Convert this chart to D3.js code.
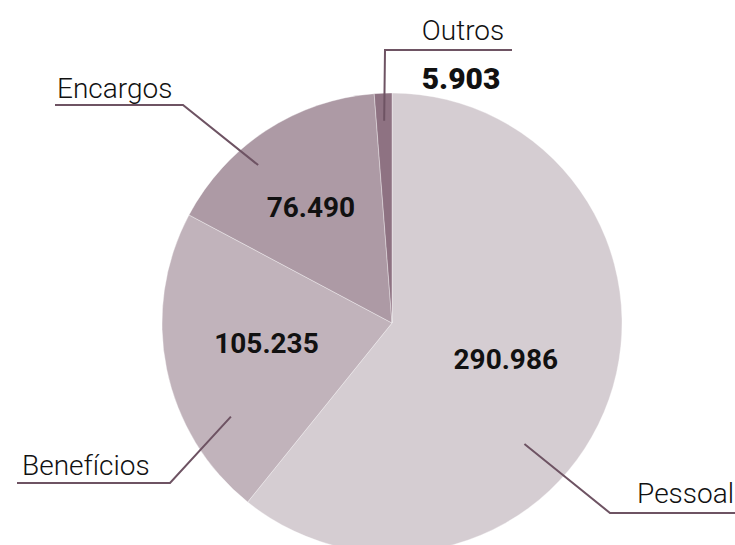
<!DOCTYPE html>
<html>
<head>
<meta charset="utf-8">
<script src="https://cdn.jsdelivr.net/npm/d3@7"></script>
<style>
  html, body { margin: 0; padding: 0; background: #ffffff; }
  svg { display: block; }
  text { font-family: Roboto, "Noto Sans", sans-serif; fill: #111111; }
</style>
</head>
<body>
<svg id="chart" width="735" height="545"></svg>
<script>
// Expense categories and values (thousands)
const categories = ["Pessoal", "Benefícios", "Encargos", "Outros"];
const values = [290.986, 105.235, 76.490, 5.903];
const valueLabels = ["290.986", "105.235", "76.490", "5.903"];
const colors = ["#d5cdd2", "#c1b3bb", "#ad9aa5", "#8e7282"];

// Layout of in-slice value labels: fraction along the slice angle, radius ratio
const valuePlacement = [
  { frac: 0.493, r: 0.52 },
  { frac: 0.53, r: 0.553 },
  { frac: 0.468, r: 0.614 },
  null
];

// Leader-line callouts: anchor inside the slice, elbow, end of the underline, text
const callouts = [
  { frac: 0.605, r: 0.78, elbow: [610, 513], endX: 735, text: { x: 734, y: 503, anchor: "end" } },
  { frac: 0.265, r: 0.81, elbow: [170, 483], endX: 17,  text: { x: 22,  y: 475, anchor: "start" } },
  { frac: 0.377, r: 0.90, elbow: [183, 105], endX: 55,  text: { x: 57,  y: 98,  anchor: "start" } },
  { frac: 0.5,   r: 0.88, elbow: [385, 50],  endX: 512, text: { x: 463, y: 40,  anchor: "middle" },
    value: { x: 461, y: 89 } }
];

const cx = 392, cy = 323, R = 230;
const svg = d3.select("#chart");
const g = svg.append("g").attr("transform", `translate(${cx},${cy})`);

const pie = d3.pie().sort(null).value(d => d.value).startAngle(0).endAngle(2 * Math.PI);
const data = categories.map((c, i) => ({ name: c, value: values[i], label: valueLabels[i], color: colors[i] }));
const arcs = pie(data);

const arc = d3.arc().innerRadius(0).outerRadius(R);

g.selectAll("path.slice")
  .data(arcs)
  .enter().append("path")
  .attr("class", "slice")
  .attr("d", arc)
  .attr("fill", d => d.data.color)
  .attr("stroke", "#ffffff")
  .attr("stroke-width", 0.6)
  .attr("stroke-opacity", 0.6);

// polar helper: point at a fraction of a slice's angular span
function pointIn(a, frac, ratio) {
  const ang = a.startAngle + frac * (a.endAngle - a.startAngle);
  return [Math.sin(ang) * R * ratio, -Math.cos(ang) * R * ratio];
}

// Value labels inside the larger slices
arcs.forEach((a, i) => {
  const p = valuePlacement[i];
  if (!p) return;
  const [x, y] = pointIn(a, p.frac, p.r);
  g.append("text")
    .attr("x", x).attr("y", y)
    .attr("text-anchor", "middle")
    .attr("dominant-baseline", "central")
    .attr("font-size", 28)
    .attr("font-weight", 700)
    .text(a.data.label);
});

// Callout lines and category names
const lineColor = "#6e5363";
arcs.forEach((a, i) => {
  const c = callouts[i];
  const [ax, ay] = pointIn(a, c.frac, c.r);
  const pts = [[ax + cx, ay + cy], c.elbow, [c.endX, c.elbow[1]]];
  svg.append("path")
    .attr("d", d3.line()(pts))
    .attr("fill", "none")
    .attr("stroke", lineColor)
    .attr("stroke-width", 2);
  svg.append("text")
    .attr("x", c.text.x).attr("y", c.text.y)
    .attr("text-anchor", c.text.anchor)
    .attr("font-size", 28)
    .attr("font-weight", 300)
    .text(a.data.name);
  if (c.value) {
    svg.append("text")
      .attr("x", c.value.x).attr("y", c.value.y)
      .attr("text-anchor", "middle")
      .attr("font-size", 30)
      .attr("font-weight", 900)
      .text(a.data.label);
  }
});
</script>
</body>
</html>
